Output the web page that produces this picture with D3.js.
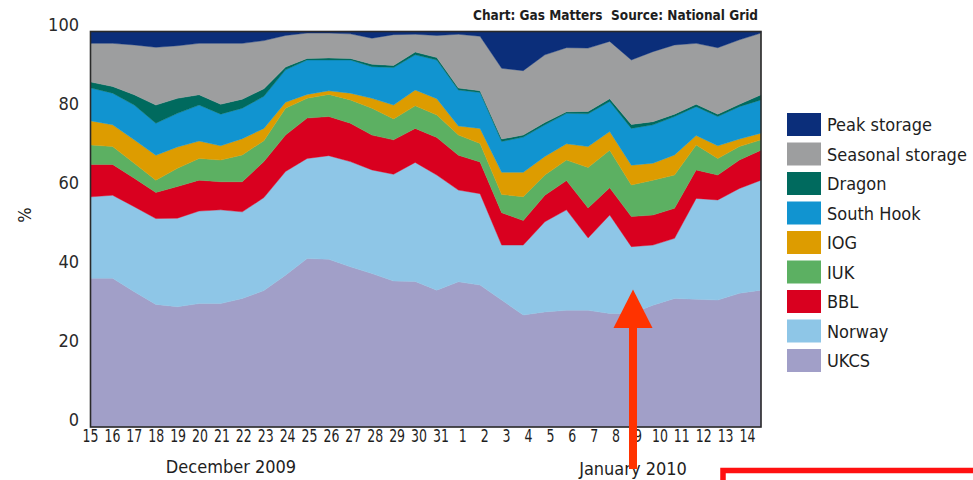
<!DOCTYPE html>
<html><head><meta charset="utf-8">
<script src="https://cdn.jsdelivr.net/npm/d3@7"></script>
<style>
body{margin:0;background:#fff}
svg{display:block}
text{font-family:"Liberation Sans Narrow","DejaVu Sans Condensed","Roboto Condensed",sans-serif;fill:#1e1e1e}
</style>
</head><body>
<svg id="chart" width="973" height="480"></svg>
<script>
// Categories: daily, 15 Dec 2009 .. 15 Jan 2010
const categories = ["Dec 15","Dec 16","Dec 17","Dec 18","Dec 19","Dec 20","Dec 21","Dec 22","Dec 23","Dec 24","Dec 25","Dec 26","Dec 27","Dec 28","Dec 29","Dec 30","Dec 31",
  "Jan 1","Jan 2","Jan 3","Jan 4","Jan 5","Jan 6","Jan 7","Jan 8","Jan 9","Jan 10","Jan 11","Jan 12","Jan 13","Jan 14","Jan 15"];
const tickCategories = categories.slice(0, 31);
const yTicks = [0, 20, 40, 60, 80, 100];

// Series values (% share of supply)
const ukcs      = [37.6,37.6,34.2,31.0,30.4,31.2,31.2,32.5,34.5,38.4,42.6,42.4,40.5,38.8,36.9,36.8,34.6,36.7,35.9,32.1,28.3,29.1,29.5,29.5,28.7,28.7,30.8,32.5,32.3,32.1,33.8,34.6];
const norway    = [20.6,21.0,21.5,21.7,22.4,23.4,23.7,21.9,23.5,26.2,25.3,26.2,26.6,26.2,27.0,30.1,29.1,23.2,23.1,13.9,17.7,22.8,25.4,18.3,24.9,16.9,15.2,15.2,25.5,25.3,26.5,27.8];
const bbl       = [8.2,7.8,7.2,6.6,8.0,7.8,7.1,7.6,9.1,9.2,10.2,9.9,9.7,8.8,8.7,8.6,9.5,8.8,8.0,8.2,6.2,6.7,7.4,7.6,6.9,7.6,7.6,7.6,7.2,6.3,7.2,7.6];
const iuk       = [4.9,4.5,3.8,3.1,4.6,5.5,5.5,6.8,5.3,6.8,5.0,5.6,5.9,6.8,5.3,5.7,5.7,5.1,4.7,4.6,6.0,5.1,5.2,10.2,9.5,8.0,8.8,8.4,6.3,4.2,3.4,2.6];
const iog       = [6.1,5.5,5.9,6.3,5.4,4.4,3.6,4.1,3.1,1.5,1.0,0.9,1.7,2.5,3.5,4.0,4.1,2.3,3.8,5.6,6.2,4.7,4.1,5.3,4.7,5.0,4.3,5.1,2.4,3.2,1.9,1.7];
const southHook = [8.3,8.0,8.8,8.1,8.5,9.1,8.0,7.7,8.1,8.2,8.7,7.8,8.4,8.0,9.5,8.9,9.8,9.1,9.1,7.8,8.9,8.0,7.7,8.3,7.6,9.3,9.7,9.7,7.3,7.4,8.2,8.4];
const dragon    = [1.5,1.7,2.6,4.6,3.8,2.6,2.5,2.3,1.9,0.7,0.4,0.5,0.4,0.6,0.5,0.7,0.6,0.5,0.4,0.6,0.5,0.6,0.4,0.6,0.7,1.0,0.8,0.6,0.6,0.6,0.6,1.3];
const seasonal  = [9.8,10.9,12.6,14.6,13.3,13.0,15.4,14.1,12.2,8.0,6.4,6.3,6.2,6.6,7.8,4.5,5.6,13.6,13.8,17.9,16.3,17.1,16.2,16.0,14.5,16.3,17.7,17.5,15.4,16.8,16.3,15.6];
const peak      = [3.0,3.0,3.4,4.0,3.6,3.0,3.0,3.0,2.3,1.0,0.4,0.4,0.6,1.7,0.8,0.7,1.0,0.7,1.2,9.3,9.9,5.9,4.1,4.2,2.5,7.2,5.1,3.4,3.0,4.1,2.1,0.4];

const seriesNames  = ["UKCS","Norway","BBL","IUK","IOG","South Hook","Dragon","Seasonal storage","Peak storage"];
const seriesValues = [ukcs, norway, bbl, iuk, iog, southHook, dragon, seasonal, peak];
const seriesColors = ["#a19fc8","#8ec6e7","#d9001f","#5cb062","#dd9c00","#1194d0","#006a5e","#9d9e9f","#0b2e7a"];

const rows = categories.map((c, i) => {
  const r = {cat: c};
  seriesNames.forEach((n, k) => r[n] = seriesValues[k][i]);
  return r;
});

const svg = d3.select("#chart");
const L = 91, R = 761, T = 31.5, B = 427;

const x = d3.scalePoint().domain(categories).range([L, R]);
const xLab = d3.scalePoint().domain(tickCategories).range([90, 747]);
const y = d3.scaleLinear().domain([0, 100]).range([B, T]);

const stack = d3.stack().keys(seriesNames);
const layers = stack(rows);
const area = d3.area()
  .x(d => x(d.data.cat))
  .y0(d => y(d[0]))
  .y1(d => y(Math.min(100, d[1])));

svg.append("g").selectAll("path").data(layers).join("path")
  .attr("d", area)
  .attr("fill", (d, i) => seriesColors[i])
  .attr("stroke", (d, i) => seriesColors[i])
  .attr("stroke-width", 0.4);

// frame
svg.append("rect").attr("x", L - 0.5).attr("y", T).attr("width", R - L + 0.5).attr("height", B - T)
  .attr("fill", "none").attr("stroke", "#2a2a2a").attr("stroke-width", 1.6);

// y axis labels
const yAxis = d3.axisLeft(y).tickValues(yTicks).tickSize(0).tickPadding(12);
const gy = svg.append("g").attr("transform", `translate(${L},-7)`).call(yAxis);
gy.select(".domain").remove();
gy.selectAll("text").attr("font-size", 18).attr("font-family", null).style("fill", "#2a2a2a");

// x axis labels
const xAxis = d3.axisBottom(xLab).tickSize(0).tickPadding(3).tickFormat(d => d.split(" ")[1]);
const gx = svg.append("g").attr("transform", `translate(0,${B})`).call(xAxis);
gx.select(".domain").remove();
gx.selectAll("text").attr("font-size", 17).attr("font-family", null)
  .attr("transform", "scale(0.82,1)").style("fill", "#1e1e1e");

// month labels
svg.append("text").attr("x", 231).attr("y", 473).attr("text-anchor", "middle").attr("font-size", 18).text("December 2009");
svg.append("text").attr("x", 633).attr("y", 475).attr("text-anchor", "middle").attr("font-size", 18).text("January 2010");

// y title
svg.append("text").attr("transform", "translate(31,215) rotate(-90)").attr("text-anchor", "middle").attr("font-size", 18).text("%");

// source
svg.append("text").attr("x", 758).attr("y", 20).attr("text-anchor", "end").attr("font-size", 13.5)
  .attr("font-weight", "bold").style("white-space", "pre").text("Chart: Gas Matters  Source: National Grid");

// legend
const legendOrder = seriesNames.slice().reverse();
const lg = svg.append("g").selectAll("g").data(legendOrder).join("g")
  .attr("transform", (d, i) => `translate(787,${113 + i * 29.5})`);
lg.append("rect").attr("width", 34).attr("height", 23)
  .attr("fill", d => seriesColors[seriesNames.indexOf(d)]);
lg.append("text").attr("x", 40).attr("y", 12).attr("dy", "0.35em").attr("font-size", 18).text(d => d);

// red annotation arrow
const ar = svg.append("g").attr("fill", "#ff3300");
ar.append("rect").attr("x", 629).attr("y", 326).attr("width", 8).attr("height", 143);
ar.append("path").attr("d", "M633,289.5 L652.5,328 L613.5,328 Z");

// red box corner
svg.append("path").attr("d", "M723,481 V470.5 H976").attr("fill", "none")
  .attr("stroke", "#ff1010").attr("stroke-width", 5.5);
</script>
</body></html>
